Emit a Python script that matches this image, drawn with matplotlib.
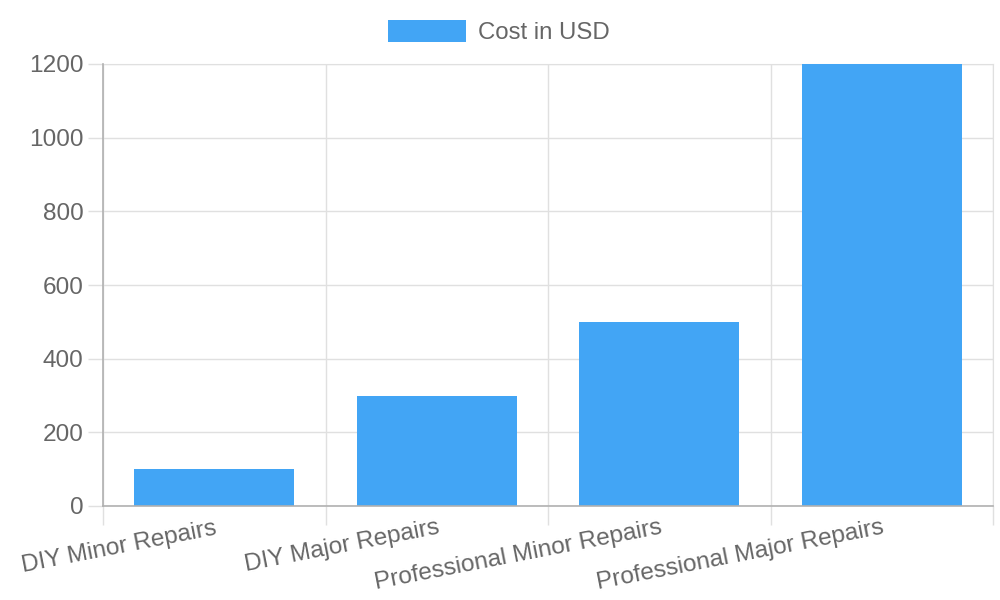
import matplotlib.pyplot as plt
from matplotlib.patches import Patch

categories = ["DIY Minor Repairs", "DIY Major Repairs", "Professional Minor Repairs", "Professional Major Repairs"]
costs = [100, 300, 500, 1200]
y_ticks = [0, 200, 400, 600, 800, 1000, 1200]

BAR_COLOR = "#42a5f5"
TEXT_COLOR = "#666666"
GRID_COLOR = "#e0e0e0"
AXIS_COLOR = "#b0b0b0"
FONT_SIZE = 17.6

plt.rcParams["font.family"] = ["Liberation Sans", "DejaVu Sans"]

fig = plt.figure(figsize=(10, 6), dpi=100)
ax = fig.add_axes([0.103, 1 - 506 / 600, 0.890, (506 - 64) / 600])

x = list(range(len(categories)))
ax.bar(x, costs, width=0.72, color=BAR_COLOR, zorder=3)

ax.set_xlim(-0.5, len(categories) - 0.5)
ax.set_ylim(0, 1200)

ax.set_yticks(y_ticks)
ax.set_yticklabels([str(v) for v in y_ticks])
ax.tick_params(axis="y", length=11, width=1, color=GRID_COLOR, pad=3,
               labelsize=FONT_SIZE, labelcolor=TEXT_COLOR)

ax.set_xticks(x)
ax.set_xticklabels(categories, rotation=11, ha="right", rotation_mode="anchor")
ax.tick_params(axis="x", which="major", length=0, pad=8,
               labelsize=FONT_SIZE, labelcolor=TEXT_COLOR)
ax.set_xticks([i - 0.5 for i in range(len(categories) + 1)], minor=True)
ax.tick_params(axis="x", which="minor", length=14, width=1, color=GRID_COLOR)

ax.grid(axis="y", which="major", color=GRID_COLOR, linewidth=1, zorder=0)
ax.grid(axis="x", which="minor", color=GRID_COLOR, linewidth=1, zorder=0)

for side in ["top", "right"]:
    ax.spines[side].set_color(GRID_COLOR)
for side in ["left", "bottom"]:
    ax.spines[side].set_color(AXIS_COLOR)
    ax.spines[side].set_linewidth(1.2)
    ax.spines[side].set_zorder(4)

handle = Patch(facecolor=BAR_COLOR, edgecolor="none")
fig.legend([handle], ["Cost in USD"], loc="center", bbox_to_anchor=(0.499, 1 - 32 / 600),
           frameon=False, fontsize=17.3, labelcolor=TEXT_COLOR,
           handlelength=3.25, handleheight=1.05, handletextpad=0.5)

fig.savefig("out.png", dpi=100)
